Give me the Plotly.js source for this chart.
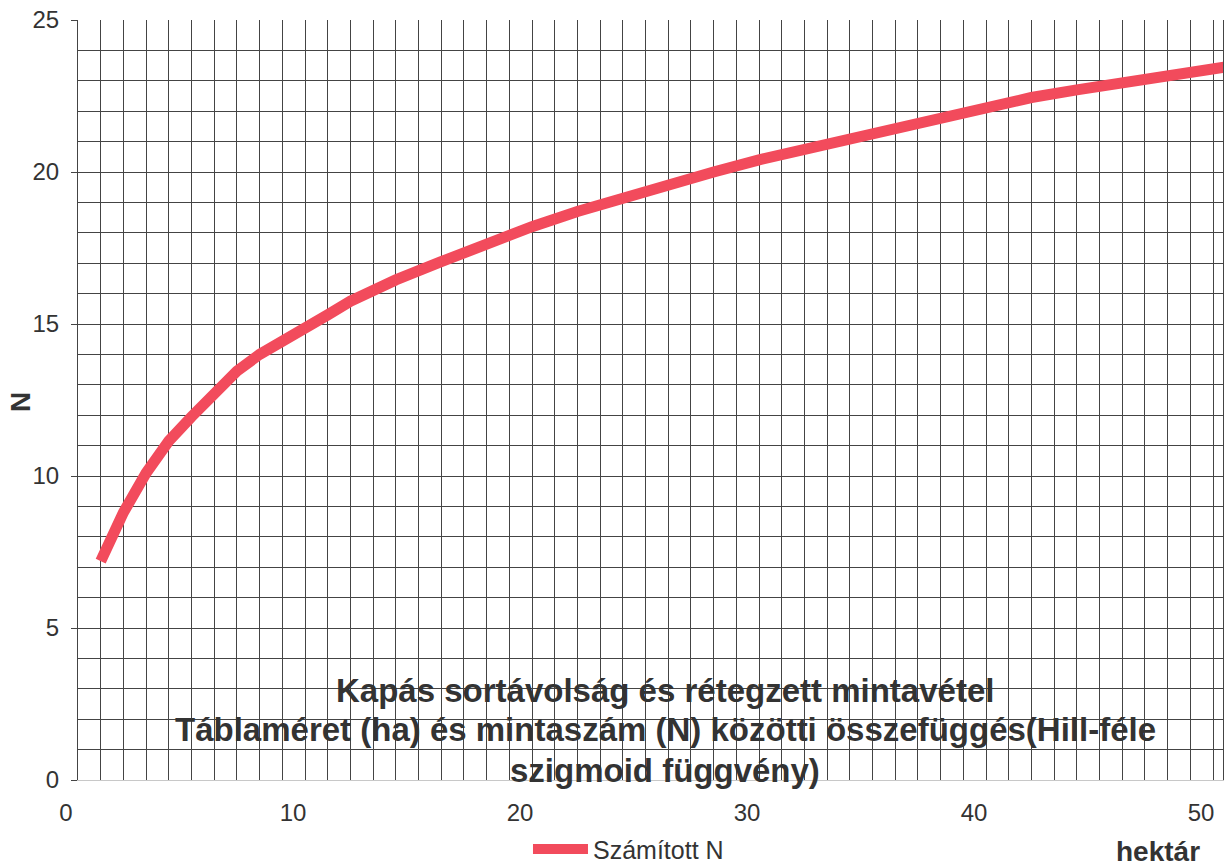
<!DOCTYPE html>
<html>
<head>
<meta charset="utf-8">
<script src="https://cdn.plot.ly/plotly-3.0.1.min.js"></script>
<style>html,body{margin:0;padding:0;background:#fff;}#chart{width:1230px;height:868px;}</style>
</head>
<body>
<div id="chart"></div>
<script>
var hektar = [1, 2, 3, 4, 5, 6, 7, 8, 9, 10, 11, 12, 14, 16, 18, 20, 22, 24, 26, 28, 30, 32, 34, 36, 38, 40, 42, 44, 46, 48, 50, 50.5];
var szamitottN = [7.2, 8.8, 10.1, 11.15, 11.95, 12.65, 13.45, 14.0, 14.4, 14.85, 15.3, 15.75, 16.45, 17.05, 17.65, 18.2, 18.7, 19.15, 19.6, 20.0, 20.4, 20.75, 21.1, 21.45, 21.8, 22.15, 22.45, 22.7, 22.95, 23.2, 23.4, 23.45];
var seriesName = "Számított N";
var xTicks = [0, 10, 20, 30, 40, 50];
var yTicks = [0, 5, 10, 15, 20, 25];
var titleLines = ["Kapás sortávolság és rétegzett mintavétel", "Táblaméret (ha) és mintaszám (N) közötti összefüggés(Hill-féle", "szigmoid függvény)"];
var xTitle = "hektár";
var yTitle = "N";

var font = "Liberation Sans, Arial, sans-serif";
var gridCol = "#444";

var trace = {
  x: hektar, y: szamitottN, name: seriesName, type: "scatter", mode: "lines",
  line: {color: "#f24b5c", width: 11}, showlegend: true
};

var titleY = [0.118, 0.066, 0.013];
var annotations = titleLines.map(function (t, i) {
  return {text: "<b>" + t + "</b>", xref: "paper", yref: "paper", x: 0.513, y: titleY[i],
    xanchor: "center", yanchor: "middle", showarrow: false,
    font: {family: font, size: 33, color: "#333"}};
});
annotations.push({text: "<b>" + xTitle + "</b>", xref: "paper", yref: "paper", x: 0.943, y: -0.094,
  xanchor: "center", yanchor: "middle", showarrow: false, font: {family: font, size: 28, color: "#333"}});
annotations.push({text: "<b>" + yTitle + "</b>", xref: "paper", yref: "paper", x: -0.05, y: 0.497,
  xanchor: "center", yanchor: "middle", showarrow: false, textangle: -90,
  font: {family: font, size: 28, color: "#333"}});

var layout = {
  width: 1230, height: 868,
  margin: {l: 78, r: 7, t: 20, b: 88, autoexpand: false},
  paper_bgcolor: "#fff", plot_bgcolor: "#fff",
  font: {family: font, color: "#333"},
  xaxis: {
    range: [0, 50.44], tickvals: xTicks, ticktext: xTicks.map(String), automargin: false,
    showgrid: false, zeroline: false, ticks: "", ticklabelstandoff: 11, ticklabelshift: -12,
    tickfont: {family: font, size: 24, color: "#333"},
    showline: true, linecolor: "#c8c8c8", linewidth: 1,
    minor: {dtick: 1, tick0: 0, showgrid: true, gridcolor: gridCol, gridwidth: 1, ticks: ""}
  },
  yaxis: {
    range: [0, 25], tickvals: yTicks, ticktext: yTicks.map(String), automargin: false,
    showgrid: true, gridcolor: gridCol, gridwidth: 1, zeroline: false,
    ticks: "outside", ticklen: 6, tickcolor: "#444", ticklabelstandoff: 7,
    tickfont: {family: font, size: 24, color: "#333"},
    showline: true, linecolor: "#444", linewidth: 1, mirror: true,
    minor: {dtick: 1, tick0: 0, showgrid: true, gridcolor: gridCol, gridwidth: 1, ticks: ""}
  },
  legend: {orientation: "h", x: 0.393, y: -0.091, xanchor: "left", yanchor: "middle",
    font: {family: font, size: 25, color: "#333"}, itemwidth: 55, bgcolor: "rgba(0,0,0,0)"},
  annotations: annotations,
  showlegend: true
};

Plotly.newPlot("chart", [trace], layout, {displayModeBar: false, staticPlot: true});
</script>
</body>
</html>
